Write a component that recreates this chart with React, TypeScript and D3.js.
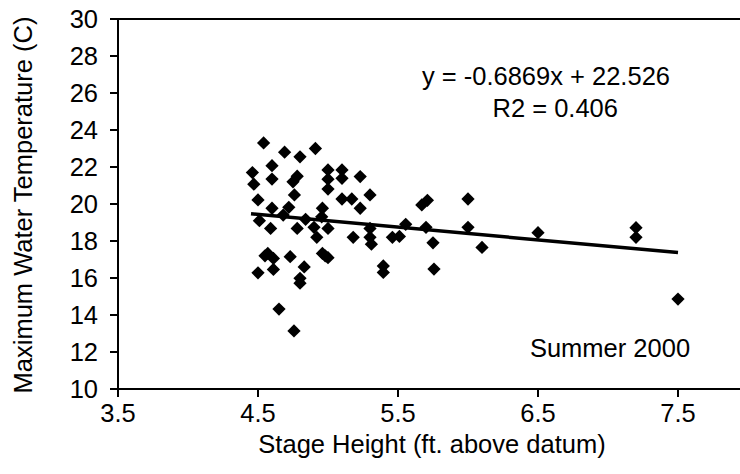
import React from "react";
import * as d3 from "d3";

const stage = [
  4.54, 4.69, 4.8, 4.91, 4.46, 4.6, 4.6, 4.78, 4.75, 4.47,
  5.0, 5.1, 5.0, 5.1, 5.23, 5.0, 4.76, 5.3, 5.1, 5.17,
  4.5, 5.23, 5.67, 5.71, 6.0, 4.6, 4.72, 4.96, 4.68, 4.955,
  4.84, 4.51, 4.59, 4.78, 4.9, 5.0, 5.3, 5.555, 5.7, 6.0,
  4.92, 5.18, 5.3, 5.31, 5.46, 5.51, 5.75, 6.1, 4.57, 4.61,
  4.73, 4.5, 4.61, 4.83, 4.96, 5.0, 4.8, 4.8, 5.395, 5.395,
  5.757, 4.65, 4.757, 6.5, 7.2, 7.2, 7.5, 4.55, 4.98,
];
const temperature = [
  23.3, 22.8, 22.55, 23.0, 21.7, 22.07, 21.35, 21.5, 21.2, 21.07,
  21.84, 21.84, 21.34, 21.39, 21.48, 20.81, 20.49, 20.49, 20.27, 20.27,
  20.22, 19.77, 19.95, 20.2, 20.27, 19.77, 19.82, 19.77, 19.4, 19.31,
  19.17, 19.1, 18.68, 18.68, 18.74, 18.68, 18.68, 18.9, 18.74, 18.74,
  18.2, 18.2, 18.2, 17.83, 18.2, 18.25, 17.9, 17.65, 17.33, 17.06,
  17.15, 16.28, 16.46, 16.6, 17.33, 17.1, 15.98, 15.72, 16.65, 16.3,
  16.48, 14.32, 13.14, 18.45, 18.72, 18.2, 14.86, 17.2, 17.2,
];
const xTicks = [3.5, 4.5, 5.5, 6.5, 7.5];
const yTicks = [10, 12, 14, 16, 18, 20, 22, 24, 26, 28, 30];
const slope = -0.6869;
const intercept = 22.526;
const trendRange = [4.45, 7.5];
const equationText = "y = -0.6869x + 22.526";
const r2Text = "R2 = 0.406";
const seasonText = "Summer 2000";
const xTitle = "Stage Height (ft. above datum)";
const yTitle = "Maximum Water Temperature (C)";

export default function App() {
  const W = 740;
  const H = 474;
  const left = 118;
  const top = 19;
  const bottom = 389;
  const x = d3.scaleLinear().domain([3.5, 8]).range([left, left + 4.5 * 140]);
  const y = d3.scaleLinear().domain([10, 30]).range([bottom, top]);
  const diamond = d3.symbol().type(d3.symbolSquare).size(88)() as string;
  const line = d3
    .line<number>()
    .x((d) => x(d))
    .y((d) => y(slope * d + intercept));
  const font = "'Liberation Sans', Arial, sans-serif";
  const fs = 25.5;
  return (
    <svg
      width={W}
      height={H}
      style={{ position: "absolute", left: 0, top: 0, background: "#fff" }}
      fontFamily={font}
    >
      <rect width={W} height={H} fill="#fff" />
      <line x1={left} x2={W} y1={top} y2={top} stroke="#000" strokeWidth={2} />
      <line x1={left} x2={W} y1={bottom} y2={bottom} stroke="#000" strokeWidth={2} />
      <line x1={left} x2={left} y1={top} y2={bottom} stroke="#000" strokeWidth={2} />
      {yTicks.map((t) => (
        <g key={"y" + t}>
          <line x1={left - 8} x2={left} y1={y(t)} y2={y(t)} stroke="#000" strokeWidth={2} />
          <text x={98} y={y(t)} dy="0.36em" textAnchor="end" fontSize={fs}>
            {t}
          </text>
        </g>
      ))}
      {xTicks.map((t) => (
        <g key={"x" + t}>
          <line x1={x(t)} x2={x(t)} y1={bottom} y2={bottom + 8} stroke="#000" strokeWidth={2} />
          <text x={x(t)} y={422} textAnchor="middle" fontSize={fs}>
            {t.toFixed(1)}
          </text>
        </g>
      ))}
      <text x={432} y={453} textAnchor="middle" fontSize={fs}>
        {xTitle}
      </text>
      <text
        transform={`translate(32,205) rotate(-90)`}
        textAnchor="middle"
        fontSize={fs}
      >
        {yTitle}
      </text>
      {stage.map((s, i) => (
        <path
          key={i}
          d={diamond}
          transform={`translate(${x(s)},${y(temperature[i])}) rotate(45)`}
          fill="#000"
        />
      ))}
      <path d={line(trendRange) as string} stroke="#000" strokeWidth={3.5} fill="none" />
      <text x={670} y={85} textAnchor="end" fontSize={fs}>
        {equationText}
      </text>
      <text x={618} y={117} textAnchor="end" fontSize={fs}>
        {r2Text}
      </text>
      <text x={610} y={357} textAnchor="middle" fontSize={fs}>
        {seasonText}
      </text>
    </svg>
  );
}
